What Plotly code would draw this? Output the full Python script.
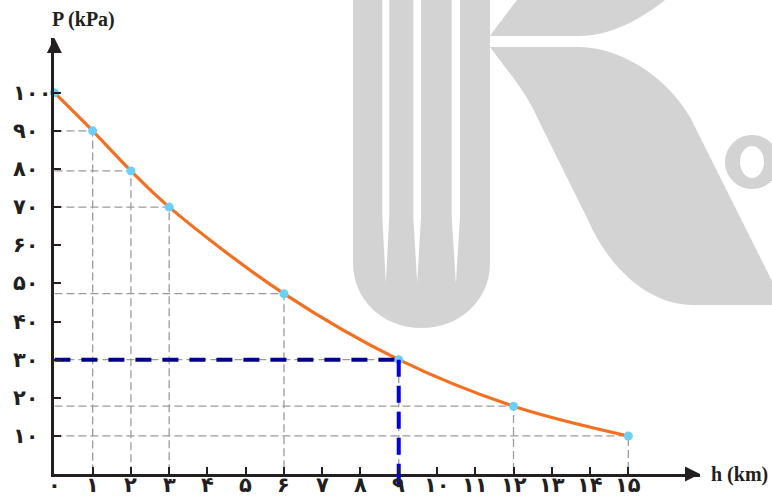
import re
import plotly.graph_objects as go

W, H = 772, 496

# data
h_km = [0, 1, 2, 3, 6, 9, 12, 15]
p_kpa = [100, 90, 79.5, 70, 47.3, 30, 17.8, 10]
guide_h = [1, 2, 3, 6, 9, 12, 15]
h_mark, p_mark = 9, 30

FA = "۰۱۲۳۴۵۶۷۸۹"


def fa_num(n):
    return "".join(FA[int(c)] for c in str(n))


x_ticks = list(range(0, 16))
x_labels = [fa_num(v) for v in x_ticks]
y_ticks = list(range(10, 101, 10))
y_labels = [fa_num(v) for v in y_ticks]

# plot box in pixels
L, R, T, B = 54.4, 700, 38, 474.1
XU, YU = 38.26, 3.814  # px per km, px per kPa

INK = "#231f20"
GREY = "#9a9a9a"
WM = "#d3d3d3"


def pp(s):
    # pixel path -> paper path
    return re.sub(r"(-?[\d.]+),(-?[\d.]+)",
                  lambda m: f"{float(m[1]) / W:.5f},{1 - float(m[2]) / H:.5f}", s)


def ellipse(cx, cy, rx, ry):
    k = 0.5523
    return (f"M{cx + rx},{cy} "
            f"C{cx + rx},{cy + k * ry} {cx + k * rx},{cy + ry} {cx},{cy + ry} "
            f"C{cx - k * rx},{cy + ry} {cx - rx},{cy + k * ry} {cx - rx},{cy} "
            f"C{cx - rx},{cy - k * ry} {cx - k * rx},{cy - ry} {cx},{cy - ry} "
            f"C{cx + k * rx},{cy - ry} {cx + rx},{cy - k * ry} {cx + rx},{cy} Z")


fig = go.Figure()

# dashed guide lines
gx, gy = [], []
for h in guide_h:
    p = p_kpa[h_km.index(h)]
    gx += [0, h, h, None]
    gy += [p, p, 0, None]
fig.add_trace(go.Scatter(x=gx, y=gy, mode="lines",
                         line=dict(color=GREY, width=1.3, dash="8px,4px"),
                         hoverinfo="skip"))

# curve
fig.add_trace(go.Scatter(x=h_km, y=p_kpa, mode="lines",
                         line=dict(color="#f37021", width=3.2, shape="spline"),
                         hoverinfo="skip"))
fig.add_trace(go.Scatter(x=h_km, y=p_kpa, mode="markers", cliponaxis=False,
                         marker=dict(color="#6ecff6", size=9)))

# highlighted reading
fig.add_trace(go.Scatter(x=[0, h_mark], y=[p_mark, p_mark], mode="lines",
                         line=dict(color="#00008b", width=4, dash="16px,11px")))
fig.add_trace(go.Scatter(x=[h_mark, h_mark], y=[p_mark, 0], mode="lines",
                         line=dict(color="#0000f0", width=4, dash="17px,9px")))

shapes = []
# watermark
wm_paths = [
    "M353,0 L490,0 L490,263 C490,300 460,328 421.5,328 C383,328 353,300 353,263 Z",
    "M490,36 C497,26 508,12 517,0 L665,0 C640,20 610,36 578,36 Z",
    "M490,47 L577,47 C620,47 665,75 690,117 L772,281 L772,305 L693,305 "
    "C650,305 610,270 588,220 L537,117 C525,90 505,68 490,47 Z",
    ellipse(752, 162, 27, 27),
]
for s in wm_paths:
    shapes.append(dict(type="path", xref="paper", yref="paper", path=pp(s),
                       fillcolor=WM, line=dict(width=0), layer="below"))
for a, b in [(382.3, 389.3), (413.3, 421), (451.7, 460)]:
    c = (a + b) / 2
    shapes.append(dict(type="path", xref="paper", yref="paper",
                       path=pp(f"M{a},0 L{b},0 L{b},217 L{c},283 L{a},217 Z"),
                       fillcolor="white", line=dict(width=0), layer="below"))
shapes.append(dict(type="path", xref="paper", yref="paper", path=pp(ellipse(752, 162, 12, 16)),
                   fillcolor="white", line=dict(width=0), layer="below"))
# blue line runs a little past the axis
shapes.append(dict(type="line", xref="x", yref="y domain", x0=h_mark, x1=h_mark, y0=0, y1=-0.03,
                   line=dict(color="#0000f0", width=4)))

tickfont = dict(family="DejaVu Sans", size=21, color=INK, weight="bold")

annotations = [
    dict(x=1, y=0, xref="x domain", yref="y domain", text="", showarrow=True,
         ax=-16, ay=0, arrowhead=2, arrowsize=1.2, arrowwidth=2.5, arrowcolor=INK),
    dict(x=0, y=1, xref="x domain", yref="y domain", text="", showarrow=True,
         ax=0, ay=16, arrowhead=2, arrowsize=1.2, arrowwidth=2.5, arrowcolor=INK),
    dict(x=83 / W, y=1 - 19 / H, xref="paper", yref="paper", text="<b>P (kPa)</b>",
         showarrow=False, xanchor="center", yanchor="middle",
         font=dict(family="Liberation Serif", size=20, color=INK)),
    dict(x=709 / W, y=1 - 474 / H, xref="paper", yref="paper", text="<b>h (km)</b>",
         showarrow=False, xanchor="left", yanchor="middle",
         font=dict(family="Liberation Serif", size=20, color=INK)),
]
# tick labels placed as in the reference (y ones left-aligned)
for v, t in zip(y_ticks, y_labels):
    annotations.append(dict(x=11 / W, y=v, xref="paper", yref="y", text=t, showarrow=False,
                            xanchor="left", yanchor="middle", font=tickfont))
for v, t in zip(x_ticks, x_labels):
    annotations.append(dict(x=v, y=1 - 485 / H, xref="x", yref="paper", text=t, showarrow=False,
                            xanchor="center", yanchor="middle", font=tickfont))

fig.update_layout(
    width=W, height=H,
    margin=dict(l=0, r=0, t=0, b=0, autoexpand=False),
    paper_bgcolor="white",
    plot_bgcolor="rgba(0,0,0,0)",
    showlegend=False,
    shapes=shapes,
    annotations=annotations,
    xaxis=dict(domain=[L / W, R / W], range=[0, (R - L) / XU], automargin=False,
               showline=True, linecolor=INK, linewidth=2.5,
               ticks="inside", ticklen=7, tickwidth=1.5, tickcolor=INK,
               tickvals=x_ticks, showticklabels=False,
               showgrid=False, zeroline=False),
    yaxis=dict(domain=[1 - B / H, 1 - T / H], range=[0, (B - T) / YU], automargin=False,
               showline=True, linecolor=INK, linewidth=2.5,
               ticks="inside", ticklen=7, tickwidth=1.5, tickcolor=INK,
               tickvals=y_ticks, showticklabels=False,
               showgrid=False, zeroline=False),
)

fig.write_html("out.html", config={"displayModeBar": False},
               post_script="document.body.style.margin='0';")
